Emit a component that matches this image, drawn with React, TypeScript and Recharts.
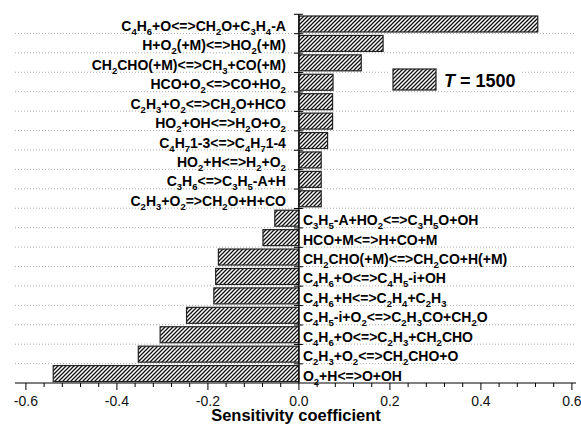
import { BarChart, Bar, XAxis, YAxis, CartesianGrid, ReferenceLine, Customized } from "recharts";

const FONT = '"Liberation Sans", Arial, Helvetica, sans-serif';

// "_x" marks a subscript character
const REACTIONS = [
  "C_4H_6+O<=>CH_2O+C_3H_4-A",
  "H+O_2(+M)<=>HO_2(+M)",
  "CH_2CHO(+M)<=>CH_3+CO(+M)",
  "HCO+O_2<=>CO+HO_2",
  "C_2H_3+O_2<=>CH_2O+HCO",
  "HO_2+OH<=>H_2O+O_2",
  "C_4H_71-3<=>C_4H_71-4",
  "HO_2+H<=>H_2+O_2",
  "C_3H_6<=>C_3H_5-A+H",
  "C_2H_3+O_2=>CH_2O+H+CO",
  "C_3H_5-A+HO_2<=>C_3H_5O+OH",
  "HCO+M<=>H+CO+M",
  "CH_2CHO(+M)<=>CH_2CO+H(+M)",
  "C_4H_6+O<=>C_4H_5-i+OH",
  "C_4H_6+H<=>C_2H_4+C_2H_3",
  "C_4H_5-i+O_2<=>C_2H_3CO+CH_2O",
  "C_4H_6+O<=>C_2H_3+CH_2CHO",
  "C_2H_3+O_2<=>CH_2CHO+O",
  "O_2+H<=>O+OH",
];

const SENSITIVITY = [
  0.525, 0.185, 0.137, 0.075, 0.074, 0.074, 0.063, 0.049, 0.049, 0.049,
  -0.053, -0.079, -0.177, -0.183, -0.187, -0.247, -0.305, -0.353, -0.54,
];

const MAJOR_TICKS = [-0.6, -0.4, -0.2, 0, 0.2, 0.4, 0.6];
const AXIS_TICKS = [
  -0.6, -0.56, -0.52, -0.48, -0.44, -0.4, -0.36, -0.32, -0.28, -0.24, -0.2,
  -0.16, -0.12, -0.08, -0.04, 0, 0.04, 0.08, 0.12, 0.16, 0.2, 0.24, 0.28,
  0.32, 0.36, 0.4, 0.44, 0.48, 0.52, 0.56, 0.6,
];

const TEMPERATURE = "1500";

const W = 581;
const H = 425;
const MARGIN = { top: 14, right: 5, bottom: 12, left: 15 };
const X_AXIS_H = 30;
const PLOT_H = H - MARGIN.top - MARGIN.bottom - X_AXIS_H;
const ROW_H = PLOT_H / REACTIONS.length;

const rows = REACTIONS.map((name, i) => ({ name, value: SENSITIVITY[i] }));

function splitFormula(text: string) {
  const parts: { t: string; sub: boolean }[] = [];
  for (let i = 0; i < text.length; i++) {
    if (text[i] === "_" && i + 1 < text.length) {
      parts.push({ t: text[i + 1], sub: true });
      i++;
    } else {
      const last = parts[parts.length - 1];
      if (last && !last.sub) last.t += text[i];
      else parts.push({ t: text[i], sub: false });
    }
  }
  return parts;
}

function Formula({ text, x, y, anchor }: { text: string; x: number; y: number; anchor: "start" | "end" }) {
  const parts = splitFormula(text);
  let shifted = false;
  return (
    <text x={x} y={y} textAnchor={anchor} fontFamily={FONT} fontWeight="bold" fontSize={14} fill="#000">
      {parts.map((p, i) => {
        let dy = 0;
        if (p.sub && !shifted) { dy = 4; shifted = true; }
        else if (!p.sub && shifted) { dy = -4; shifted = false; }
        return (
          <tspan key={i} dy={dy} fontSize={p.sub ? 9.5 : 14}>
            {p.t}
          </tspan>
        );
      })}
    </text>
  );
}

function HatchBar(props: any) {
  const { x, y, width, height, payload } = props;
  const left = Math.min(x, x + width);
  const w = Math.abs(width);
  const positive = payload.value >= 0;
  const zero = positive ? left : left + w;
  const rowTop = y - (ROW_H - height) / 2;
  const mid = y + height / 2;
  return (
    <g>
      <rect x={left} y={y} width={w} height={height} fill="url(#hatch)" stroke="#222" strokeWidth={1.2} />
      <line x1={zero - 5} x2={zero + 4} y1={rowTop} y2={rowTop} stroke="#000" strokeWidth={1} />
      <Formula
        text={payload.name}
        x={positive ? zero - 13 : zero + 4}
        y={mid + 7}
        anchor={positive ? "end" : "start"}
      />
    </g>
  );
}

function XTick(props: any) {
  const { x, y, payload } = props;
  const v = payload.value as number;
  const major = MAJOR_TICKS.some((m) => Math.abs(m - v) < 1e-6);
  return (
    <g>
      <line x1={x} x2={x} y1={y} y2={y + (major ? 7 : 4)} stroke="#000" strokeWidth={1} />
      {major && (
        <text x={x} y={y + 23} textAnchor="middle" fontFamily={FONT} fontSize={14} fill="#111">
          {v.toFixed(1)}
        </text>
      )}
    </g>
  );
}

function Overlay() {
  return (
    <g>
      <rect x={388} y={62} width={134} height={27} fill="#fff" />
      <rect x={393} y={69} width={43} height={21} fill="url(#hatch)" stroke="#222" strokeWidth={1.2} />
      <text x={444} y={87} fontFamily={FONT} fontWeight="bold" fontSize={18} fill="#000">
        <tspan fontStyle="italic">T</tspan>
        <tspan>{` = ${TEMPERATURE}`}</tspan>
      </text>
      <text x={296} y={421} textAnchor="middle" fontFamily={FONT} fontWeight="bold" fontSize={16.5} fill="#000">
        Sensitivity coefficient
      </text>
    </g>
  );
}

export default function App() {
  return (
    <div style={{ position: "absolute", left: 0, top: 0, width: W, height: H, background: "#fff" }}>
      <svg width={0} height={0} style={{ position: "absolute" }}>
        <defs>
          <pattern id="hatch" patternUnits="userSpaceOnUse" width={4} height={4}>
            <rect width={4} height={4} fill="#fff" />
            <path d="M-1,1 l2,-2 M0,4 l4,-4 M3,5 l2,-2" stroke="#111" strokeWidth={1.3} />
          </pattern>
        </defs>
      </svg>
      <BarChart width={W} height={H} data={rows} layout="vertical" margin={MARGIN} barSize={16}>
        <CartesianGrid
          vertical={false}
          stroke="#aaa"
          strokeDasharray="1 2"
          horizontalCoordinatesGenerator={({ offset }: any) => {
            const top = offset?.top ?? MARGIN.top;
            const h = offset?.height ?? PLOT_H;
            return REACTIONS.slice(1).map((_, i) => top + ((i + 1) * h) / REACTIONS.length);
          }}
        />
        <XAxis
          type="number"
          domain={[-0.624, 0.609]}
          allowDataOverflow
          ticks={AXIS_TICKS}
          interval={0}
          tickLine={false}
          tickSize={0}
          tickMargin={0}
          tick={<XTick />}
          axisLine={{ stroke: "#000", strokeWidth: 1.2 }}
          height={X_AXIS_H}
        />
        <YAxis type="category" dataKey="name" hide width={0} />
        <Bar dataKey="value" shape={<HatchBar />} isAnimationActive={false} />
        <ReferenceLine x={0} stroke="#000" strokeWidth={1.2} />
        <Customized component={Overlay} />
      </BarChart>
    </div>
  );
}
